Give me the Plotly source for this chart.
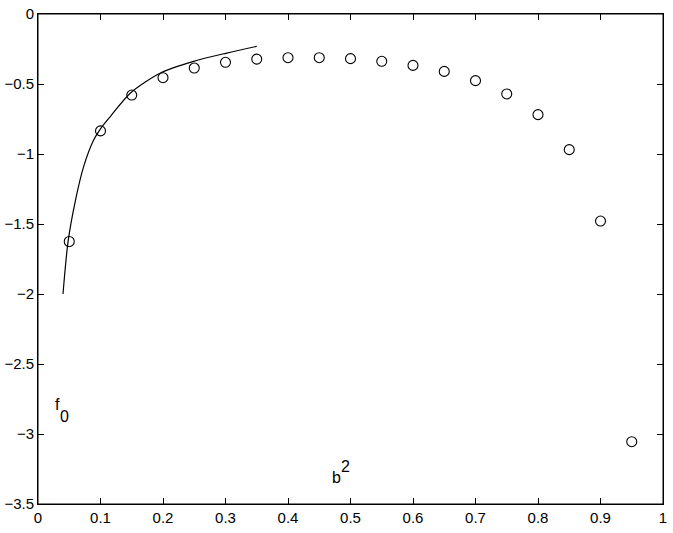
import plotly.graph_objects as go

# circle data (b^2, f0)
circle_x = [0.05, 0.10, 0.15, 0.20, 0.25, 0.30, 0.35, 0.40, 0.45, 0.50,
            0.55, 0.60, 0.65, 0.70, 0.75, 0.80, 0.85, 0.90, 0.95]
circle_y = [-1.625, -0.835, -0.579, -0.455, -0.386, -0.345, -0.322, -0.312, -0.312, -0.319,
            -0.338, -0.367, -0.410, -0.476, -0.571, -0.719, -0.969, -1.479, -3.055]

# solid curve
curve_x = [0.040, 0.048, 0.060, 0.073, 0.089, 0.100, 0.116, 0.148, 0.196, 0.249, 0.302, 0.350]
curve_y = [-2.00, -1.63, -1.33, -1.09, -0.90, -0.82, -0.731, -0.564, -0.421, -0.338, -0.279, -0.231]

x_ticks = [0, 0.1, 0.2, 0.3, 0.4, 0.5, 0.6, 0.7, 0.8, 0.9, 1]
x_tick_labels = ["0", "0.1", "0.2", "0.3", "0.4", "0.5", "0.6", "0.7", "0.8", "0.9", "1"]
y_ticks = [0, -0.5, -1, -1.5, -2, -2.5, -3, -3.5]
y_tick_labels = ["0", "\u22120.5", "\u22121", "\u22121.5", "\u22122", "\u22122.5", "\u22123", "\u22123.5"]

FONT = "Liberation Sans, Arial, Helvetica, sans-serif"

fig = go.Figure()
fig.add_trace(go.Scatter(x=curve_x, y=curve_y, mode="lines",
                         line=dict(color="black", width=1.2, shape="spline", smoothing=0.8),
                         showlegend=False, hoverinfo="skip"))
fig.add_trace(go.Scatter(x=circle_x, y=circle_y, mode="markers",
                         marker=dict(symbol="circle-open", size=10,
                                     color="black", line=dict(width=1.1, color="black")),
                         showlegend=False))

axis_common = dict(showline=True, linecolor="black", linewidth=1, mirror="ticks",
                   ticks="inside", ticklen=6, tickcolor="black", tickwidth=1,
                   showgrid=False, zeroline=False, automargin=False,
                   tickfont=dict(family=FONT, size=15, color="black"))

fig.update_xaxes(range=[0, 1], tickvals=x_ticks, ticktext=x_tick_labels, **axis_common)
fig.update_yaxes(range=[-3.5, 0], tickvals=y_ticks, ticktext=y_tick_labels, **axis_common)

fig.add_shape(type="rect", xref="paper", yref="paper", x0=0, y0=0, x1=1, y1=1,
              line=dict(color="black", width=1), layer="above")

ann_font = dict(family=FONT, size=16, color="black")
annotations = [
    dict(x=0.0312, y=-2.791, text="f"),
    dict(x=0.0431, y=-2.873, text="0"),
    dict(x=0.4773, y=-3.312, text="b"),
    dict(x=0.4912, y=-3.231, text="2"),
]
for a in annotations:
    fig.add_annotation(x=a["x"], y=a["y"], text=a["text"], xref="x", yref="y",
                       showarrow=False, font=ann_font, xanchor="center", yanchor="middle")

fig.update_layout(width=673, height=533,
                  margin=dict(l=38, r=10, t=14, b=29, autoexpand=False),
                  paper_bgcolor="white", plot_bgcolor="white",
                  font=dict(family=FONT, color="black"))

fig.write_html("out.html", config={"displayModeBar": False},
               post_script="document.body.style.margin='0';document.body.style.padding='0';")
